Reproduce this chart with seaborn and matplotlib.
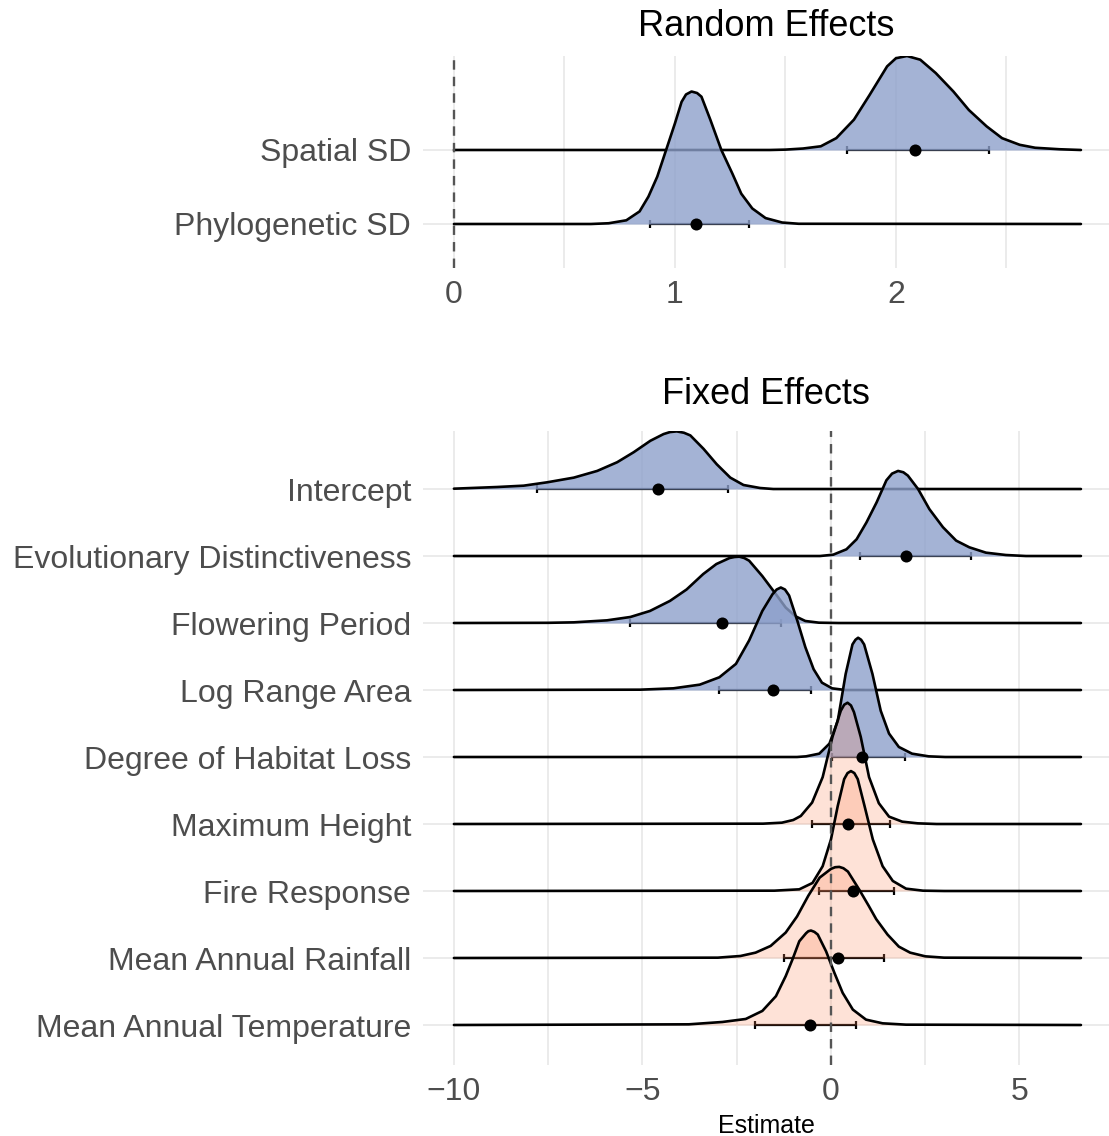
import matplotlib
matplotlib.use("Agg")
import matplotlib.pyplot as plt
import seaborn as sns
import numpy as np

# ---------------- data ----------------
# Random effects (top to bottom)
RE_LABELS = ["Spatial SD", "Phylogenetic SD"]
RE_POINT = [2.085, 1.096]
RE_LOW = [1.777, 0.887]
RE_HIGH = [2.42, 1.337]
RE_FILL = ["blue", "blue"]

SPATIAL_X = [0.0, 1.43, 1.50, 1.58, 1.66, 1.73, 1.81, 1.88, 1.96, 2.00, 2.05, 2.11,
             2.18, 2.26, 2.33, 2.41, 2.48, 2.56, 2.63, 2.74, 2.837]
SPATIAL_H = [0.0, 0.0, 0.005, 0.02, 0.05, 0.16, 0.41, 0.74, 1.13, 1.24, 1.27, 1.22,
             1.04, 0.79, 0.54, 0.32, 0.16, 0.07, 0.03, 0.01, 0.0]
PHYLO_X = [0.0, 0.62, 0.70, 0.78, 0.84, 0.88, 0.92, 0.96, 1.00, 1.03, 1.05, 1.075,
           1.10, 1.12, 1.16, 1.21, 1.26, 1.30, 1.35, 1.41, 1.485, 1.56, 2.837]
PHYLO_H = [0.0, 0.0, 0.01, 0.05, 0.17, 0.37, 0.64, 1.00, 1.36, 1.65, 1.75, 1.79,
           1.77, 1.72, 1.41, 1.00, 0.68, 0.41, 0.21, 0.08, 0.02, 0.003, 0.0]

# Fixed effects (top to bottom)
FE_LABELS = ["Intercept", "Evolutionary Distinctiveness", "Flowering Period",
             "Log Range Area", "Degree of Habitat Loss", "Maximum Height",
             "Fire Response", "Mean Annual Rainfall", "Mean Annual Temperature"]
FE_POINT = [-4.60, 2.00, -2.89, -1.53, 0.83, 0.46, 0.59, 0.18, -0.56]
FE_LOW = [-7.79, 0.78, -5.34, -2.96, 0.02, -0.51, -0.31, -1.24, -2.01]
FE_HIGH = [-2.72, 3.71, -1.33, -0.53, 1.96, 1.56, 1.66, 1.41, 0.66]
FE_FILL = ["blue", "blue", "blue", "blue", "blue", "salmon", "salmon", "salmon", "salmon"]

INTERCEPT_X = [-10.0, -8.85, -8.15, -7.53, -6.82, -6.2, -5.67, -5.23, -4.79, -4.44, -4.27,
               -4.09, -3.90, -3.73, -3.38, -3.03, -2.67, -2.32, -1.88, -1.53, 6.63]
INTERCEPT_H = [0.005, 0.03, 0.05, 0.10, 0.17, 0.27, 0.40, 0.55, 0.72, 0.82, 0.85,
               0.86, 0.84, 0.80, 0.60, 0.37, 0.17, 0.06, 0.015, 0.0, 0.0]
EVOL_X = [-10.0, -0.29, 0.06, 0.41, 0.68, 0.94, 1.21, 1.47, 1.62, 1.78, 1.92, 2.04, 2.31,
          2.61, 2.97, 3.32, 3.67, 4.11, 4.64, 5.17, 6.63]
EVOL_H = [0.0, 0.0, 0.02, 0.10, 0.25, 0.50, 0.80, 1.13, 1.23, 1.27, 1.25, 1.20, 1.00,
          0.70, 0.43, 0.23, 0.13, 0.05, 0.015, 0.0, 0.0]
FLOWER_X = [-10.0, -7.5, -6.82, -5.94, -5.32, -4.80, -4.27, -3.83, -3.39, -3.04, -2.69,
            -2.56, -2.43, -2.30, -2.17, -1.82, -1.46, -1.20, -0.94, -0.68, -0.32, 0.2, 6.63]
FLOWER_H = [0.0, 0.003, 0.01, 0.04, 0.09, 0.18, 0.33, 0.50, 0.73, 0.88, 0.97,
            0.985, 0.99, 0.97, 0.93, 0.70, 0.43, 0.23, 0.10, 0.03, 0.005, 0.0, 0.0]
RANGE_X = [-10.0, -5.06, -4.18, -3.48, -2.96, -2.52, -2.17, -1.82, -1.55, -1.44, -1.33,
           -1.22, -1.11, -0.89, -0.68, -0.46, -0.24, 0.03, 0.38, 6.63]
RANGE_H = [0.0, 0.005, 0.025, 0.08, 0.19, 0.39, 0.74, 1.18, 1.43, 1.50, 1.53,
           1.50, 1.41, 1.03, 0.64, 0.31, 0.11, 0.025, 0.0, 0.0]
HABITAT_X = [-10.0, -0.9, -0.66, -0.31, -0.04, 0.18, 0.39, 0.57, 0.65, 0.72, 0.80, 0.88,
             1.10, 1.32, 1.54, 1.80, 2.15, 2.59, 3.03, 6.63]
HABITAT_H = [0.0, 0.0, 0.01, 0.05, 0.20, 0.54, 1.24, 1.68, 1.75, 1.78, 1.75, 1.68,
             1.24, 0.69, 0.35, 0.15, 0.05, 0.01, 0.0, 0.0]
HEIGHT_X = [-10.0, -1.8, -1.3, -1.0, -0.8, -0.5, -0.22, 0.04, 0.26, 0.35, 0.44, 0.53,
            0.61, 0.79, 1.01, 1.27, 1.54, 1.89, 2.3, 2.8, 6.63]
HEIGHT_H = [0.0, 0.005, 0.02, 0.06, 0.12, 0.32, 0.70, 1.30, 1.69, 1.78, 1.81, 1.77,
            1.67, 1.30, 0.70, 0.31, 0.11, 0.035, 0.01, 0.0, 0.0]
FIRE_X = [-10.0, -1.5, -0.84, -0.49, -0.22, 0.0, 0.18, 0.35, 0.44, 0.53, 0.62, 0.71,
          0.89, 1.11, 1.37, 1.64, 1.99, 2.44, 3.0, 6.63]
FIRE_H = [0.0, 0.005, 0.025, 0.12, 0.37, 0.77, 1.27, 1.67, 1.76, 1.79, 1.76, 1.67,
          1.27, 0.77, 0.37, 0.15, 0.035, 0.005, 0.0, 0.0]
RAIN_X = [-10.0, -3.0, -2.4, -2.0, -1.6, -1.2, -0.9, -0.6, -0.3, 0.0, 0.11, 0.22, 0.33,
          0.45, 0.75, 1.0, 1.2, 1.5, 1.8, 2.1, 2.5, 3.0, 6.63]
RAIN_H = [0.0, 0.005, 0.03, 0.08, 0.18, 0.38, 0.62, 0.93, 1.20, 1.33, 1.355, 1.36, 1.34,
          1.29, 1.02, 0.78, 0.58, 0.35, 0.17, 0.08, 0.025, 0.005, 0.0]
TEMP_X = [-10.0, -3.77, -2.88, -2.26, -1.82, -1.46, -1.20, -1.02, -0.84, -0.66, -0.60,
          -0.53, -0.44, -0.35, -0.13, 0.09, 0.31, 0.58, 0.93, 1.37, 1.99, 6.63]
TEMP_H = [0.0, 0.01, 0.045, 0.09, 0.21, 0.43, 0.73, 0.98, 1.25, 1.37, 1.40,
          1.41, 1.39, 1.35, 1.10, 0.78, 0.48, 0.23, 0.08, 0.025, 0.005, 0.0]

RE_CURVES = [(SPATIAL_X, SPATIAL_H), (PHYLO_X, PHYLO_H)]
FE_CURVES = [(INTERCEPT_X, INTERCEPT_H), (EVOL_X, EVOL_H), (FLOWER_X, FLOWER_H),
             (RANGE_X, RANGE_H), (HABITAT_X, HABITAT_H), (HEIGHT_X, HEIGHT_H),
             (FIRE_X, FIRE_H), (RAIN_X, RAIN_H), (TEMP_X, TEMP_H)]

RE_TICKS = [0, 1, 2]
RE_TICKLABELS = ["0", "1", "2"]
RE_MINOR = [0.5, 1.5, 2.5]
FE_TICKS = [-10, -5, 0, 5]
FE_TICKLABELS = ["\u221210", "\u22125", "0", "5"]
FE_MINOR = [-7.5, -2.5, 2.5]

# ---------------- style ----------------
FILLS = {"blue": ("#8DA0CB", 0.8), "salmon": ("#FC8D62", 0.25)}
GRID = "#EBEBEB"
TXT = "#4D4D4D"

sns.set_theme(style="whitegrid")
plt.rcParams['font.family'] = ['Liberation Sans', 'DejaVu Sans']

W, H = 1109, 1136
fig = plt.figure(figsize=(W / 100, H / 100), dpi=100)
ax1 = fig.add_axes([423 / W, 1 - 268.4 / H, 686 / W, 212.4 / H])
ax2 = fig.add_axes([423 / W, 1 - 1065.2 / H, 686 / W, 633.8 / H])


def draw_panel(ax, labels, curves, fills, pts, lows, highs, xlim, ylim,
               ticks, ticklabels, minor):
    n = len(labels)
    rows = np.arange(n, 0, -1)
    pts = np.asarray(pts)
    lows = np.asarray(lows)
    highs = np.asarray(highs)
    # interval bars (beneath the ridges)
    ax.errorbar(pts, rows, xerr=[pts - lows, highs - pts], fmt='none',
                ecolor='black', elinewidth=1.6, capsize=3, capthick=1.6, zorder=2)
    for i, ((cx, ch), f, r) in enumerate(zip(curves, fills, rows)):
        col, a = FILLS[f]
        cx = np.asarray(cx)
        cy = r + np.asarray(ch)
        ax.fill_between(cx, r, cy, color=col, alpha=a, lw=0, zorder=5 + 2 * i)
        sns.lineplot(x=cx, y=cy, ax=ax, color='black', linewidth=1.9,
                     sort=False, estimator=None, zorder=6 + 2 * i)
        ax.lines[-1].set_solid_joinstyle('round')
    ax.axvline(0, color='#555555', lw=1.7, ls=(0, (4, 3)), zorder=40)
    sns.scatterplot(x=pts, y=rows, ax=ax, color='black', s=75, linewidth=0,
                    zorder=60)
    ax.set_xlim(*xlim)
    ax.set_ylim(*ylim)
    ax.set_yticks(rows)
    ax.set_yticklabels(labels, fontsize=23, color=TXT)
    ax.set_xticks(ticks)
    ax.set_xticklabels(ticklabels, fontsize=23, color=TXT)
    ax.set_xticks(minor, minor=True)
    ax.tick_params(axis='both', which='both', length=0)
    ax.tick_params(axis='y', pad=8.5)
    ax.tick_params(axis='x', pad=8.5)
    ax.grid(True, which='major', color=GRID, lw=1.4)
    ax.grid(True, which='minor', axis='x', color=GRID, lw=1.4)
    ax.set_axisbelow(True)
    for s in ax.spines.values():
        s.set_visible(False)
    ax.set_facecolor('white')
    ax.set_ylabel("")


draw_panel(ax1, RE_LABELS, RE_CURVES, RE_FILL, RE_POINT, RE_LOW, RE_HIGH,
           (-0.140, 2.964), (0.4, 3.27), RE_TICKS, RE_TICKLABELS, RE_MINOR)
draw_panel(ax2, FE_LABELS, FE_CURVES, FE_FILL, FE_POINT, FE_LOW, FE_HIGH,
           (-10.82, 7.374), (0.4, 9.86), FE_TICKS, FE_TICKLABELS, FE_MINOR)

ax2.set_xlabel("Estimate", fontsize=18, color='black', labelpad=5)

fig.text(766 / W, 1 - 27 / H, "Random Effects", ha='center', va='center',
         fontsize=26, color='black')
fig.text(766 / W, 1 - 394 / H, "Fixed Effects", ha='center', va='center',
         fontsize=26, color='black')

fig.savefig("out.png", dpi=100, facecolor='white')
